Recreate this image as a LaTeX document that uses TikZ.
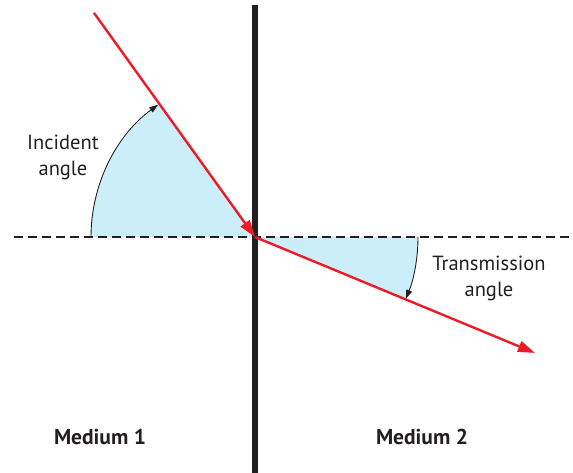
\documentclass[tikz,border=0pt]{standalone}
\usepackage{fontspec}
\setmainfont{PT Sans}
\usetikzlibrary{arrows.meta,calc}
\definecolor{rayred}{RGB}{237,28,36}
\definecolor{fillblue}{RGB}{204,237,250}
\definecolor{inkblack}{RGB}{35,31,32}
\begin{document}
\begin{tikzpicture}[x=1pt,y=-1pt,
  ray/.style={draw=rayred,line width=2.4pt,-{Triangle[length=17pt,width=11pt]}},
  anglearc/.style={draw=inkblack,line width=0.9pt,-{Triangle[length=9pt,width=6pt]}},
  lbl/.style={font=\fontsize{20.5}{26}\selectfont,text=inkblack,align=center,inner sep=0pt},
  med/.style={font=\fontsize{21.5}{24}\selectfont\bfseries,text=inkblack,inner sep=0pt}]
\useasboundingbox (0,0) rectangle (573,473);
\coordinate (O) at (255,237);
\coordinate (S) at ($(O)+(234.3:276)$);
\coordinate (E) at ($(O)+(22.5:303)$);
\coordinate (DL) at (14,237);
\coordinate (DR) at (570,237);
\coordinate (VT) at (255,5);
\coordinate (VB) at (255,473);
% shaded sectors
\fill[fillblue] (O) -- ++(180:164) arc[start angle=180,end angle=234.3,radius=164] -- cycle;
\fill[fillblue] (O) -- ++(0:163) arc[start angle=0,end angle=22.5,radius=163] -- cycle;
% normal (dashed)
\draw[inkblack,line width=1.5pt,dash pattern=on 9pt off 5pt] (DL) -- (DR);
% interface
\draw[inkblack,line width=6pt] (VT) -- (VB);
% rays
\draw[ray] (S) -- (O);
\draw[ray] (O) -- (E);
% angle arcs
\draw[anglearc] ($(O)+(180:164)$) arc[start angle=180,end angle=233.8,radius=164];
\draw[anglearc] ($(O)+(0:163)$) arc[start angle=0,end angle=22.3,radius=163];
% labels
\node[lbl] (inc) at (63,157) {Incident\\angle};
\node[lbl] (tr) at (489,278) {Transmission\\angle};
\node[med] (m1) at (100,437) {Medium 1};
\node[med] (m2) at (422,437) {Medium 2};
\end{tikzpicture}
\end{document}
